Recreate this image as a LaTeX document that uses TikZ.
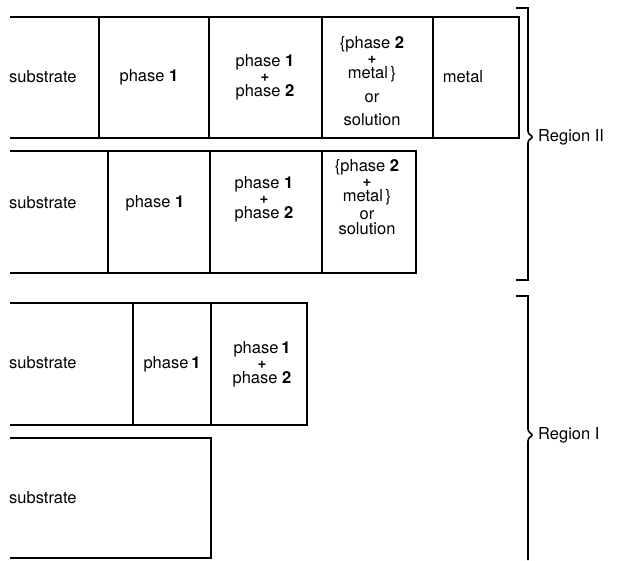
\documentclass[tikz,border=0pt]{standalone}
\usepackage{fontspec}
\setmainfont{TeX Gyre Heros}
\begin{document}
\begin{tikzpicture}[x=1pt,y=-1pt,
  wall/.style={line width=1.5pt, line join=miter},
  lbl/.style={font=\fontsize{16.5}{15}\selectfont, align=center, inner sep=0pt},
  brk/.style={line width=1.6pt}]
\useasboundingbox (0,0) rectangle (618,560);
\newcommand{\pl}{{\fontsize{15}{12}\selectfont\bfseries +}}
% ---- row 1
\draw[wall] (10,17) -- (519,17) -- (519,138) -- (10,138);
\draw[wall] (99,17) -- (99,138) (209,17) -- (209,138) (322,17) -- (322,138) (433,17) -- (433,138);
\node[lbl, anchor=west] (r1s) at (9,77) {substrate};
\node[lbl] (r1p) at (149,77) {phase \textbf{1}};
\node[lbl] (r1pp) at (265,77) {phase \textbf{1}\\ \pl\\ phase \textbf{2}};
\node[lbl] (r1m) at (372,81) {\{phase \textbf{2}\\ \pl\\ metal\,\}\\[9pt] or\\[8pt] solution};
\node[lbl] (r1me) at (463,77) {metal};
% ---- row 2
\draw[wall] (10,151) -- (416,151) -- (416,273) -- (10,273);
\draw[wall] (108,151) -- (108,273) (210,151) -- (210,273) (322,151) -- (322,273);
\node[lbl, anchor=west] (r2s) at (9,203) {substrate};
\node[lbl] (r2p) at (155,203) {phase \textbf{1}};
\node[lbl] (r2pp) at (264,199) {phase \textbf{1}\\ \pl\\ phase \textbf{2}};
\node[lbl] (r2m) at (367,197) {\{phase \textbf{2}\\ \pl\\ metal\,\}\\[3pt] or\\[0.5pt] solution};
% ---- row 3
\draw[wall] (10,303) -- (307,303) -- (307,425) -- (10,425);
\draw[wall] (133,303) -- (133,425) (211,303) -- (211,425);
\node[lbl, anchor=west] (r3s) at (9,363) {substrate};
\node[lbl] (r3p) at (172,364) {phase\,\textbf{1}};
\node[lbl] (r3pp) at (262,364) {phase\,\textbf{1}\\ \pl\\ phase \textbf{2}};
% ---- row 4
\draw[wall] (10,438) -- (211,438) -- (211,558) -- (10,558);
\node[lbl, anchor=west] (r4s) at (9,498) {substrate};
% ---- brackets
\draw[brk] (516,8) -- (528,8) -- (528,131) .. controls (528,135) and (532,135) .. (532,137)
  .. controls (532,139) and (528,139) .. (528,143) -- (528,280) -- (516,280);
\node[lbl, anchor=west] (reg2) at (538,137) {Region II};
\draw[brk] (516,296) -- (528,296) -- (528,429) .. controls (528,433) and (532,433) .. (532,435)
  .. controls (532,437) and (528,437) .. (528,441) -- (528,560);
\node[lbl, anchor=west] (reg1) at (538,435) {Region I};
\end{tikzpicture}
\end{document}
